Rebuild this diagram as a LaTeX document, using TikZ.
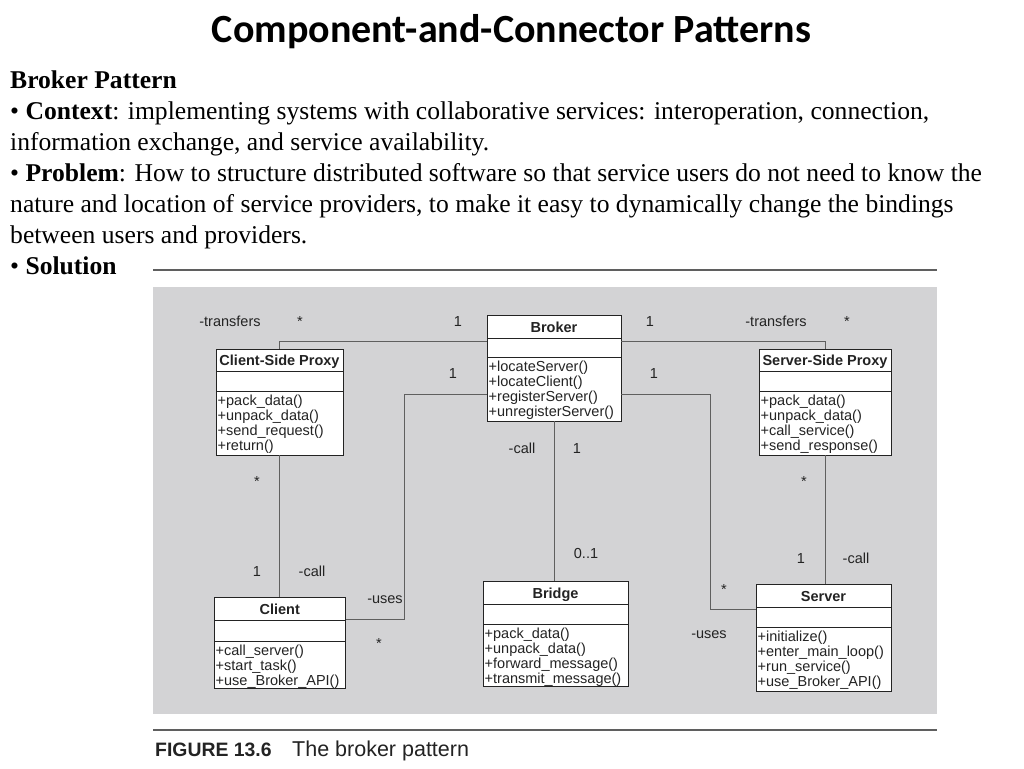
\documentclass[tikz,border=0pt]{standalone}
\usepackage{fontspec}
\setmainfont{Liberation Serif}
\setsansfont{Liberation Sans}
\newfontfamily\titlefont{Carlito}
\usetikzlibrary{fit}
\definecolor{panel}{RGB}{211,211,213}
\definecolor{wire}{RGB}{95,95,95}
\definecolor{ink}{RGB}{35,35,35}
\newcommand{\umlclass}[9]{%
  \node[classbox, fit={(#2,#3) (#4,#5)}] (#1) {};
  \draw[draw=ink, line width=0.9pt] (#2,#6) -- (#4,#6) (#2,#7) -- (#4,#7);
  \node[lbl, font=\sffamily\bfseries\fontsize{14.5}{16}\selectfont] (#1-title) at ({(#2+#4)/2},{#6-6}) {#8};
  \node[meth] (#1-ops) at ({#2+1.5},{#7+3}) {\rule{0pt}{11pt}#9};
}
\begin{document}
\begin{tikzpicture}[x=1pt,y=-1pt,
  classbox/.style={draw=ink, fill=white, inner sep=0pt, line width=0.9pt},
  conn/.style={draw=wire, line width=1pt},
  lbl/.style={font=\sffamily\fontsize{14.5}{16}\selectfont, text=ink, anchor=base, inner sep=0pt},
  meth/.style={font=\sffamily\fontsize{14.5}{15}\selectfont, text=ink, anchor=north west, align=left, inner sep=0pt},
  body/.style={font=\fontsize{25.6}{30}\selectfont, anchor=base west, inner sep=0pt},
  rulestyle/.style={draw=wire, line width=1.2pt}]
\useasboundingbox (0,0) rectangle (1024,768);
\fill[white] (0,0) rectangle (1024,768);

\node[font=\titlefont\bfseries\fontsize{40}{44}\selectfont, anchor=base, inner sep=0pt] (title) at (511.5,42) {Component-and-Connector Patterns};

\node[body] (l1) at (10,88) {\textbf{Broker Pattern}};
\node[body] (l2) at (10,119) {• \textbf{Context}: implementing systems with collaborative services: interoperation, connection,};
\node[body] (l3) at (10,150) {information exchange, and service availability.};
\node[body] (l4) at (10,181) {• \textbf{Problem}: How to structure distributed software so that service users do not need to know the};
\node[body] (l5) at (10,212) {nature and location of service providers, to make it easy to dynamically change the bindings};
\node[body] (l6) at (10,243) {between users and providers.};
\node[body] (l7) at (10,274) {• \textbf{Solution}};

\draw[rulestyle] (153,270) -- (937,270);
\fill[panel] (153,287) rectangle (937,714);
\draw[rulestyle] (153,730) -- (937,730);

\node[anchor=base west, inner sep=0pt, font=\sffamily\bfseries\fontsize{19.4}{22}\selectfont, text=ink] (figlabel) at (155,756) {FIGURE 13.6};
\node[anchor=base west, inner sep=0pt, font=\sffamily\fontsize{21.5}{24}\selectfont, text=ink] (figtitle) at (292,756) {The broker pattern};

\umlclass{csp}{216}{349}{343}{455}{371.5}{391.5}{Client-Side Proxy}{+pack\_data()\\+unpack\_data()\\+send\_request()\\+return()}
\umlclass{broker}{487}{315}{621}{421}{338}{357}{Broker}{+locateServer()\\+locateClient()\\+registerServer()\\+unregisterServer()}
\umlclass{ssp}{759}{349}{891}{455}{371}{391.5}{Server-Side Proxy}{+pack\_data()\\+unpack\_data()\\+call\_service()\\+send\_response()}
\umlclass{client}{214}{597.5}{345.5}{688}{620}{641}{Client}{+call\_server()\\+start\_task()\\+use\_Broker\_API()}
\umlclass{bridge}{483}{581}{628}{686}{604}{624}{Bridge}{+pack\_data()\\+unpack\_data()\\+forward\_message()\\+transmit\_message()}
\umlclass{server}{756}{584.5}{891}{691.5}{607}{627}{Server}{+initialize()\\+enter\_main\_loop()\\+run\_service()\\+use\_Broker\_API()}

\draw[conn] ([yshift=-26.7pt]broker.north west) -| (csp.north);
\draw[conn] ([yshift=-26.7pt]broker.north east) -| (ssp.north);
\draw[conn] ([yshift=-80pt]broker.north west) -- ++(-82,0) |- ([yshift=-22.5pt]client.north east);
\draw[conn] ([yshift=-80pt]broker.north east) -- ++(89,0) |- ([yshift=-25pt]server.north west);
\draw[conn] (broker.south) -- (broker.south |- bridge.north);
\draw[conn] (csp.south) -- (csp.south |- client.north);
\draw[conn] (ssp.south) -- (ssp.south |- server.north);

\node[lbl] (t1) at (230,326) {-transfers};
\node[lbl] (t2) at (300,326) {*};
\node[lbl] (t3) at (458,326) {1};
\node[lbl] (t4) at (650,326) {1};
\node[lbl] (t5) at (776,326) {-transfers};
\node[lbl] (t6) at (847,326) {*};
\node[lbl] (t7) at (453,378) {1};
\node[lbl] (t8) at (654,378) {1};
\node[lbl] (t9) at (522,453) {-call};
\node[lbl] (t10) at (577,453) {1};
\node[lbl] (t11) at (257,486) {*};
\node[lbl] (t12) at (804,486) {*};
\node[lbl] (t13) at (586,558) {0..1};
\node[lbl] (t14) at (257,576) {1};
\node[lbl] (t15) at (312,576) {-call};
\node[lbl] (t16) at (801,563) {1};
\node[lbl] (t17) at (856,563) {-call};
\node[lbl] (t18) at (385,603) {-uses};
\node[lbl] (t19) at (379,648) {*};
\node[lbl] (t20) at (724,594) {*};
\node[lbl] (t21) at (709,638) {-uses};
\end{tikzpicture}
\end{document}
